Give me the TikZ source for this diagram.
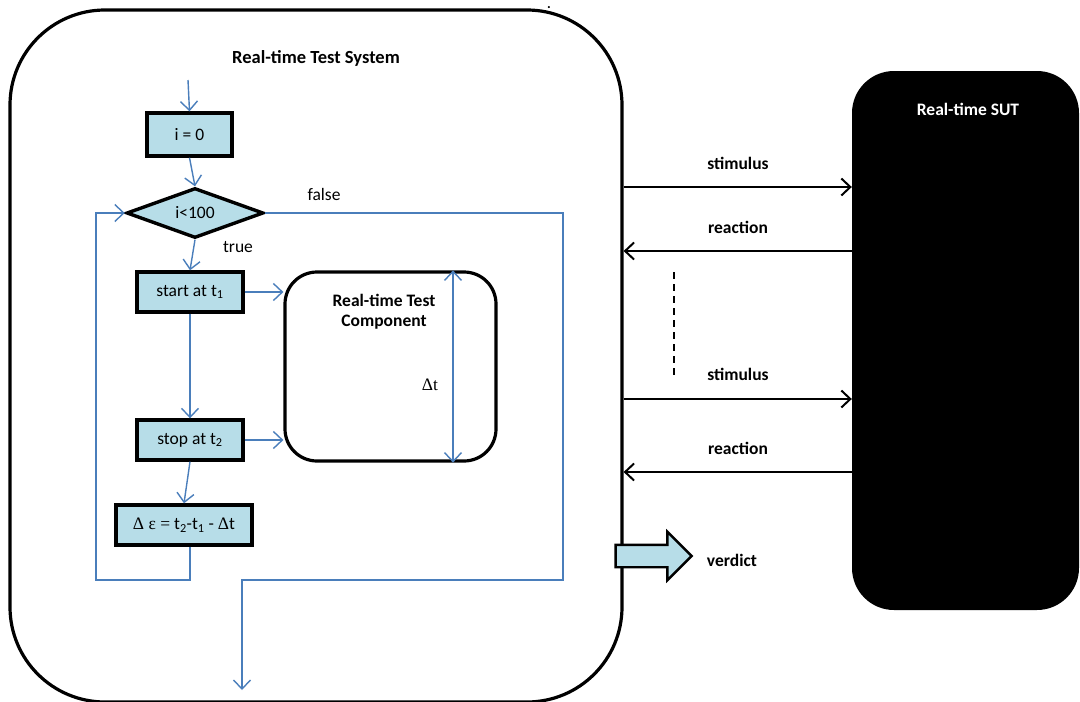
\documentclass[tikz,border=0pt]{standalone}
\usepackage{fontspec}
\setmainfont{Carlito}
\newfontfamily\serifrm{Liberation Serif}
\usetikzlibrary{arrows.meta,shapes.geometric,shapes.arrows}
\definecolor{lb}{HTML}{B7DDE8}
\definecolor{fb}{HTML}{4A7EBB}
\tikzset{
  flowbox/.style={draw=black,line width=3.4pt,fill=lb,inner sep=0pt,font=\fontsize{17.5}{20}\selectfont},
  flow/.style={draw=fb,line width=1.4pt,-{Straight Barb[length=9pt,width=17pt,line width=1.4pt]}},
  sig/.style={draw=black,line width=2pt,-{Straight Barb[length=9pt,width=17pt,line width=2pt]}},
  lbl/.style={font=\fontsize{17.5}{20}\selectfont\bfseries},
  plain/.style={font=\fontsize{17.5}{20}\selectfont}
}
\begin{document}
\begin{tikzpicture}[x=1pt,y=-1pt]
\useasboundingbox[fill=white] (0,0) rectangle (1080,702);
% containers
\node[draw,line width=3.2pt,rounded corners=95pt,minimum width=612pt,minimum height=692pt,inner sep=0pt] (sys) at (316,356) {};
\node[fill=black,rounded corners=42pt,minimum width=227pt,minimum height=539pt,inner sep=0pt] (sut) at (965.5,340.5) {};
\node[lbl,font=\fontsize{18.5}{20}\selectfont\bfseries] (systitle) at (316,58) {Real-time Test System};
\node[lbl,text=white] (suttitle) at (968,109) {Real-time SUT};
\node[font=\fontsize{14}{14}\selectfont\bfseries,anchor=base,inner sep=0pt,text height=3pt,text depth=0pt] (dot) at (549,8) {.};
% flowchart
\node[flowbox,minimum width=85pt,minimum height=43pt] (i0) at (189.5,134.5) {i = 0};
\node[flowbox,diamond,aspect=2.74,minimum width=137pt,minimum height=50pt] (dec) at (195,213) {i<100};
\node[flowbox,minimum width=106pt,minimum height=40pt] (start) at (190,292) {start at t\textsubscript{1}};
\node[flowbox,minimum width=106pt,minimum height=40pt] (stop) at (190,440) {stop at t\textsubscript{2}};
\node[flowbox,minimum width=136pt,minimum height=40pt] (eps) at (184,525) {{\serifrm Δ ε =} t\textsubscript{2}-t\textsubscript{1} - {\serifrm Δ}t};
\node[draw,line width=3.2pt,rounded corners=32pt,minimum width=211pt,minimum height=189pt,inner sep=0pt] (comp) at (390.5,366.5) {};
\node[lbl,align=center] (comptitle) at (384,312) {Real-time Test\\Component};
\node[font=\fontsize{17.5}{20}\selectfont\serifrm] (dtl) at (430,385) {Δt};
\node[plain] (false) at (324,194) {false};
\node[plain] (true) at (238,247) {true};
% coordinates
\coordinate (in) at (188,80);
\coordinate (dtx) at (453,0);
\coordinate (lbc) at (96,580);
\coordinate (fr) at (563,580);
\coordinate (exit) at (242,690);
% flow connectors
\draw[flow] (in) -- (i0.north);
\draw[flow] (i0.south) -- (dec.north);
\draw[flow] (dec.south) -- (start.north);
\draw[flow] (start.east) -- (comp.west |- start.east);
\draw[flow] (start.south) -- (stop.north);
\draw[flow] (stop.east) -- (comp.west |- stop.east);
\draw[flow] (stop.south) -- (eps.north);
\draw[flow] ([xshift=6pt]eps.south) -- ([xshift=6pt]eps.south |- lbc) -- (lbc) -- (lbc |- dec.west) -- (dec.west);
\draw[flow] (dec.east) -- (dec.east -| fr) -- (fr) -- (fr -| exit) -- (exit);
\draw[draw=fb,line width=1.4pt,{Straight Barb[length=9pt,width=17pt,line width=1.4pt]}-{Straight Barb[length=9pt,width=17pt,line width=1.4pt]}] (comp.north -| dtx) -- (comp.south -| dtx);
% signals
\coordinate (y1) at (0,187);
\coordinate (y2) at (0,251);
\coordinate (y3) at (0,399);
\coordinate (y4) at (0,472);
\draw[sig] (sys.east |- y1) -- (sut.west |- y1);
\draw[sig] (sut.west |- y2) -- (sys.east |- y2);
\draw[sig] (sys.east |- y3) -- (sut.west |- y3);
\draw[sig] (sut.west |- y4) -- (sys.east |- y4);
\node[lbl] (st1) at (738,163) {stimulus};
\node[lbl] (re1) at (738,227) {reaction};
\node[lbl] (st2) at (738,374) {stimulus};
\node[lbl] (re2) at (738,448) {reaction};
\draw[black,line width=1.4pt,dash pattern=on 7pt off 5pt] (674,272) -- (674,378);
\node[single arrow,draw=black,line width=2.4pt,fill=lb,minimum height=76pt,inner xsep=0pt,inner ysep=10pt,single arrow head extend=13pt] (verdictarrow) at (648,556) {};
\node[lbl] (verdict) at (732,560) {verdict};
\end{tikzpicture}
\end{document}
